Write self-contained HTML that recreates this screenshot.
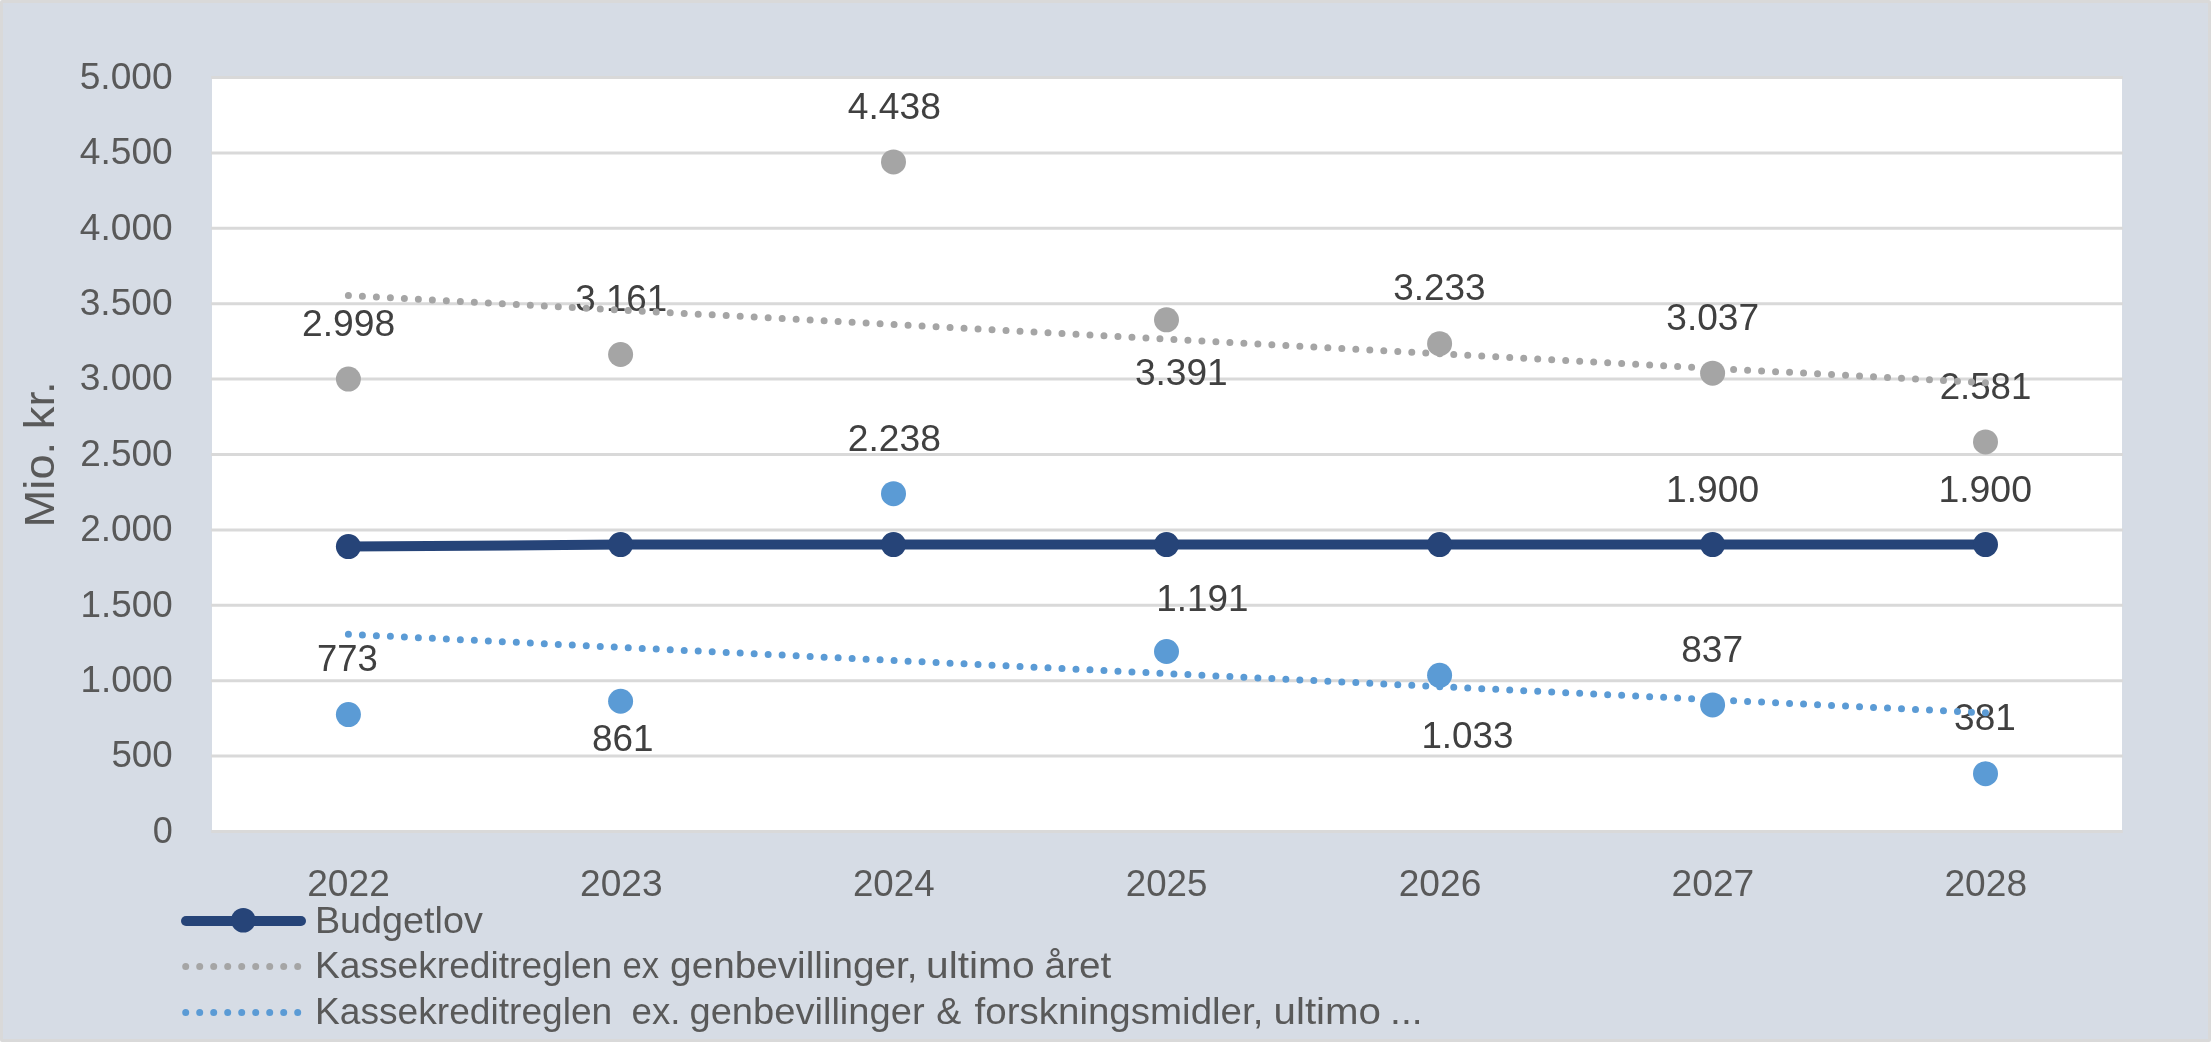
<!DOCTYPE html>
<html><head><meta charset="utf-8"><title>Chart</title>
<style>
html,body{margin:0;padding:0;background:#fff;width:2211px;height:1042px;overflow:hidden}
svg{display:block;will-change:transform}
text{font-family:"Liberation Sans", Arial, sans-serif}
</style></head><body>
<svg width="2211" height="1042" viewBox="0 0 2211 1042">
<rect x="0" y="0" width="2211" height="1042" rx="2" fill="#d9d9d9"/>
<rect x="3" y="3" width="2205" height="1036" fill="#d6dce5"/>
<rect x="212" y="76" width="1910" height="757" fill="#ffffff"/>
<g stroke="#d9d9d9" stroke-width="3"><line x1="211.2" y1="831.45" x2="2122.8" y2="831.45"/><line x1="211.2" y1="756.06" x2="2122.8" y2="756.06"/><line x1="211.2" y1="680.67" x2="2122.8" y2="680.67"/><line x1="211.2" y1="605.28" x2="2122.8" y2="605.28"/><line x1="211.2" y1="529.89" x2="2122.8" y2="529.89"/><line x1="211.2" y1="454.50" x2="2122.8" y2="454.50"/><line x1="211.2" y1="379.11" x2="2122.8" y2="379.11"/><line x1="211.2" y1="303.72" x2="2122.8" y2="303.72"/><line x1="211.2" y1="228.33" x2="2122.8" y2="228.33"/><line x1="211.2" y1="152.94" x2="2122.8" y2="152.94"/><line x1="211.2" y1="77.55" x2="2122.8" y2="77.55"/></g>
<g fill="#595959" font-size="37"><text x="79.7" y="88.85" textLength="92.98" lengthAdjust="spacingAndGlyphs">5.000</text><text x="79.8" y="164.24" textLength="92.88" lengthAdjust="spacingAndGlyphs">4.500</text><text x="79.8" y="239.63" textLength="92.88" lengthAdjust="spacingAndGlyphs">4.000</text><text x="79.7" y="315.02" textLength="92.98" lengthAdjust="spacingAndGlyphs">3.500</text><text x="79.7" y="390.41" textLength="92.98" lengthAdjust="spacingAndGlyphs">3.000</text><text x="80.2" y="465.8" textLength="92.48" lengthAdjust="spacingAndGlyphs">2.500</text><text x="80.2" y="541.19" textLength="92.48" lengthAdjust="spacingAndGlyphs">2.000</text><text x="80.51" y="616.58" textLength="92.17" lengthAdjust="spacingAndGlyphs">1.500</text><text x="80.51" y="691.97" textLength="92.17" lengthAdjust="spacingAndGlyphs">1.000</text><text x="111.41" y="767.36" textLength="61.27" lengthAdjust="spacingAndGlyphs">500</text><text x="152.63" y="842.75" textLength="20.04" lengthAdjust="spacingAndGlyphs">0</text><text x="307.2" y="896.3" textLength="82.59" lengthAdjust="spacingAndGlyphs">2022</text><text x="580.08" y="896.3" textLength="82.59" lengthAdjust="spacingAndGlyphs">2023</text><text x="852.97" y="896.3" textLength="81.56" lengthAdjust="spacingAndGlyphs">2024</text><text x="1125.85" y="896.3" textLength="81.56" lengthAdjust="spacingAndGlyphs">2025</text><text x="1398.72" y="896.3" textLength="82.59" lengthAdjust="spacingAndGlyphs">2026</text><text x="1671.6" y="896.3" textLength="82.59" lengthAdjust="spacingAndGlyphs">2027</text><text x="1944.48" y="896.3" textLength="82.59" lengthAdjust="spacingAndGlyphs">2028</text></g>
<text transform="translate(54,454.4) rotate(-90)" text-anchor="middle" fill="#595959" font-size="42" textLength="146" lengthAdjust="spacingAndGlyphs">Mio. kr.</text>
<g fill="#404040" font-size="37"><text x="301.99" y="336.1" textLength="93.09" lengthAdjust="spacingAndGlyphs">2.998</text><text x="575.31" y="311.2" textLength="91.86" lengthAdjust="spacingAndGlyphs">3.161</text><text x="847.8" y="119.1" textLength="93.09" lengthAdjust="spacingAndGlyphs">4.438</text><text x="1134.9" y="385.0" textLength="92.78" lengthAdjust="spacingAndGlyphs">3.391</text><text x="1393.2" y="300.3" textLength="92.37" lengthAdjust="spacingAndGlyphs">3.233</text><text x="1666.3" y="330.0" textLength="92.78" lengthAdjust="spacingAndGlyphs">3.037</text><text x="1939.71" y="398.6" textLength="91.65" lengthAdjust="spacingAndGlyphs">2.581</text><text x="317.02" y="671.3" textLength="60.74" lengthAdjust="spacingAndGlyphs">773</text><text x="592.1" y="751.3" textLength="61.47" lengthAdjust="spacingAndGlyphs">861</text><text x="847.79" y="450.6" textLength="93.09" lengthAdjust="spacingAndGlyphs">2.238</text><text x="1156.21" y="610.5" textLength="92.16" lengthAdjust="spacingAndGlyphs">1.191</text><text x="1421.41" y="748.3" textLength="92.06" lengthAdjust="spacingAndGlyphs">1.033</text><text x="1681.2" y="661.6" textLength="61.88" lengthAdjust="spacingAndGlyphs">837</text><text x="1954.1" y="730.3" textLength="61.68" lengthAdjust="spacingAndGlyphs">381</text><text x="1666.09" y="501.6" textLength="92.99" lengthAdjust="spacingAndGlyphs">1.900</text><text x="1938.38" y="501.6" textLength="93.61" lengthAdjust="spacingAndGlyphs">1.900</text></g>
<line x1="348.40" y1="295.46" x2="1985.50" y2="382.83" stroke="#a5a5a5" stroke-width="7" stroke-linecap="round" stroke-dasharray="0 14.0118"/>
<line x1="348.40" y1="634.32" x2="1985.50" y2="712.80" stroke="#5b9bd5" stroke-width="7" stroke-linecap="round" stroke-dasharray="0 14.0079"/>
<polyline points="348.40,546.58 620.60,544.62 893.50,544.62 1166.50,544.62 1439.60,544.62 1712.60,544.62 1985.50,544.62" fill="none" stroke="#264478" stroke-width="10" stroke-linejoin="round" stroke-linecap="round"/>
<g fill="#a5a5a5"><circle cx="348.40" cy="379.06" r="12.5"/><circle cx="620.60" cy="354.48" r="12.5"/><circle cx="893.50" cy="161.94" r="12.5"/><circle cx="1166.50" cy="319.81" r="12.5"/><circle cx="1439.60" cy="343.63" r="12.5"/><circle cx="1712.60" cy="373.18" r="12.5"/><circle cx="1985.50" cy="441.94" r="12.5"/></g>
<g fill="#5b9bd5"><circle cx="348.40" cy="714.55" r="12.5"/><circle cx="620.60" cy="701.28" r="12.5"/><circle cx="893.50" cy="493.65" r="12.5"/><circle cx="1166.50" cy="651.52" r="12.5"/><circle cx="1439.60" cy="675.34" r="12.5"/><circle cx="1712.60" cy="704.90" r="12.5"/><circle cx="1985.50" cy="773.65" r="12.5"/></g>
<g fill="#264478"><circle cx="348.40" cy="546.58" r="12.5"/><circle cx="620.60" cy="544.62" r="12.5"/><circle cx="893.50" cy="544.62" r="12.5"/><circle cx="1166.50" cy="544.62" r="12.5"/><circle cx="1439.60" cy="544.62" r="12.5"/><circle cx="1712.60" cy="544.62" r="12.5"/><circle cx="1985.50" cy="544.62" r="12.5"/></g>
<line x1="186" y1="921" x2="301" y2="921" stroke="#264478" stroke-width="10" stroke-linecap="round"/>
<circle cx="243.3" cy="920.2" r="12.3" fill="#264478"/>
<line x1="185.7" y1="966.6" x2="298" y2="966.6" stroke="#a5a5a5" stroke-width="7" stroke-linecap="round" stroke-dasharray="0 14"/>
<line x1="185.7" y1="1012.6" x2="298" y2="1012.6" stroke="#5b9bd5" stroke-width="7" stroke-linecap="round" stroke-dasharray="0 14"/>
<g fill="#595959" font-size="36" lengthAdjust="spacingAndGlyphs"><text x="314.9" y="932.6" textLength="167.9" lengthAdjust="spacingAndGlyphs">Budgetlov</text><text x="315.04" y="978.2" textLength="297.25" lengthAdjust="spacingAndGlyphs">Kassekreditreglen</text><text x="622.44" y="978.2" textLength="36.56" lengthAdjust="spacingAndGlyphs">ex</text><text x="670.12" y="978.2" textLength="247.5" lengthAdjust="spacingAndGlyphs">genbevillinger,</text><text x="926.04" y="978.2" textLength="108.62" lengthAdjust="spacingAndGlyphs">ultimo</text><text x="1044.63" y="978.2" textLength="66.68" lengthAdjust="spacingAndGlyphs">året</text><text x="315.04" y="1023.9" textLength="297.25" lengthAdjust="spacingAndGlyphs">Kassekreditreglen</text><text x="631.58" y="1023.9" textLength="48.87" lengthAdjust="spacingAndGlyphs">ex.</text><text x="689.44" y="1023.9" textLength="235.15" lengthAdjust="spacingAndGlyphs">genbevillinger</text><text x="936.16" y="1023.9" textLength="25.06" lengthAdjust="spacingAndGlyphs">&amp;</text><text x="974.6" y="1023.9" textLength="288.81" lengthAdjust="spacingAndGlyphs">forskningsmidler,</text><text x="1273.56" y="1023.9" textLength="107.38" lengthAdjust="spacingAndGlyphs">ultimo</text><text x="1390.05" y="1023.9" textLength="32.5" lengthAdjust="spacingAndGlyphs">...</text></g>
</svg>
</body></html>
